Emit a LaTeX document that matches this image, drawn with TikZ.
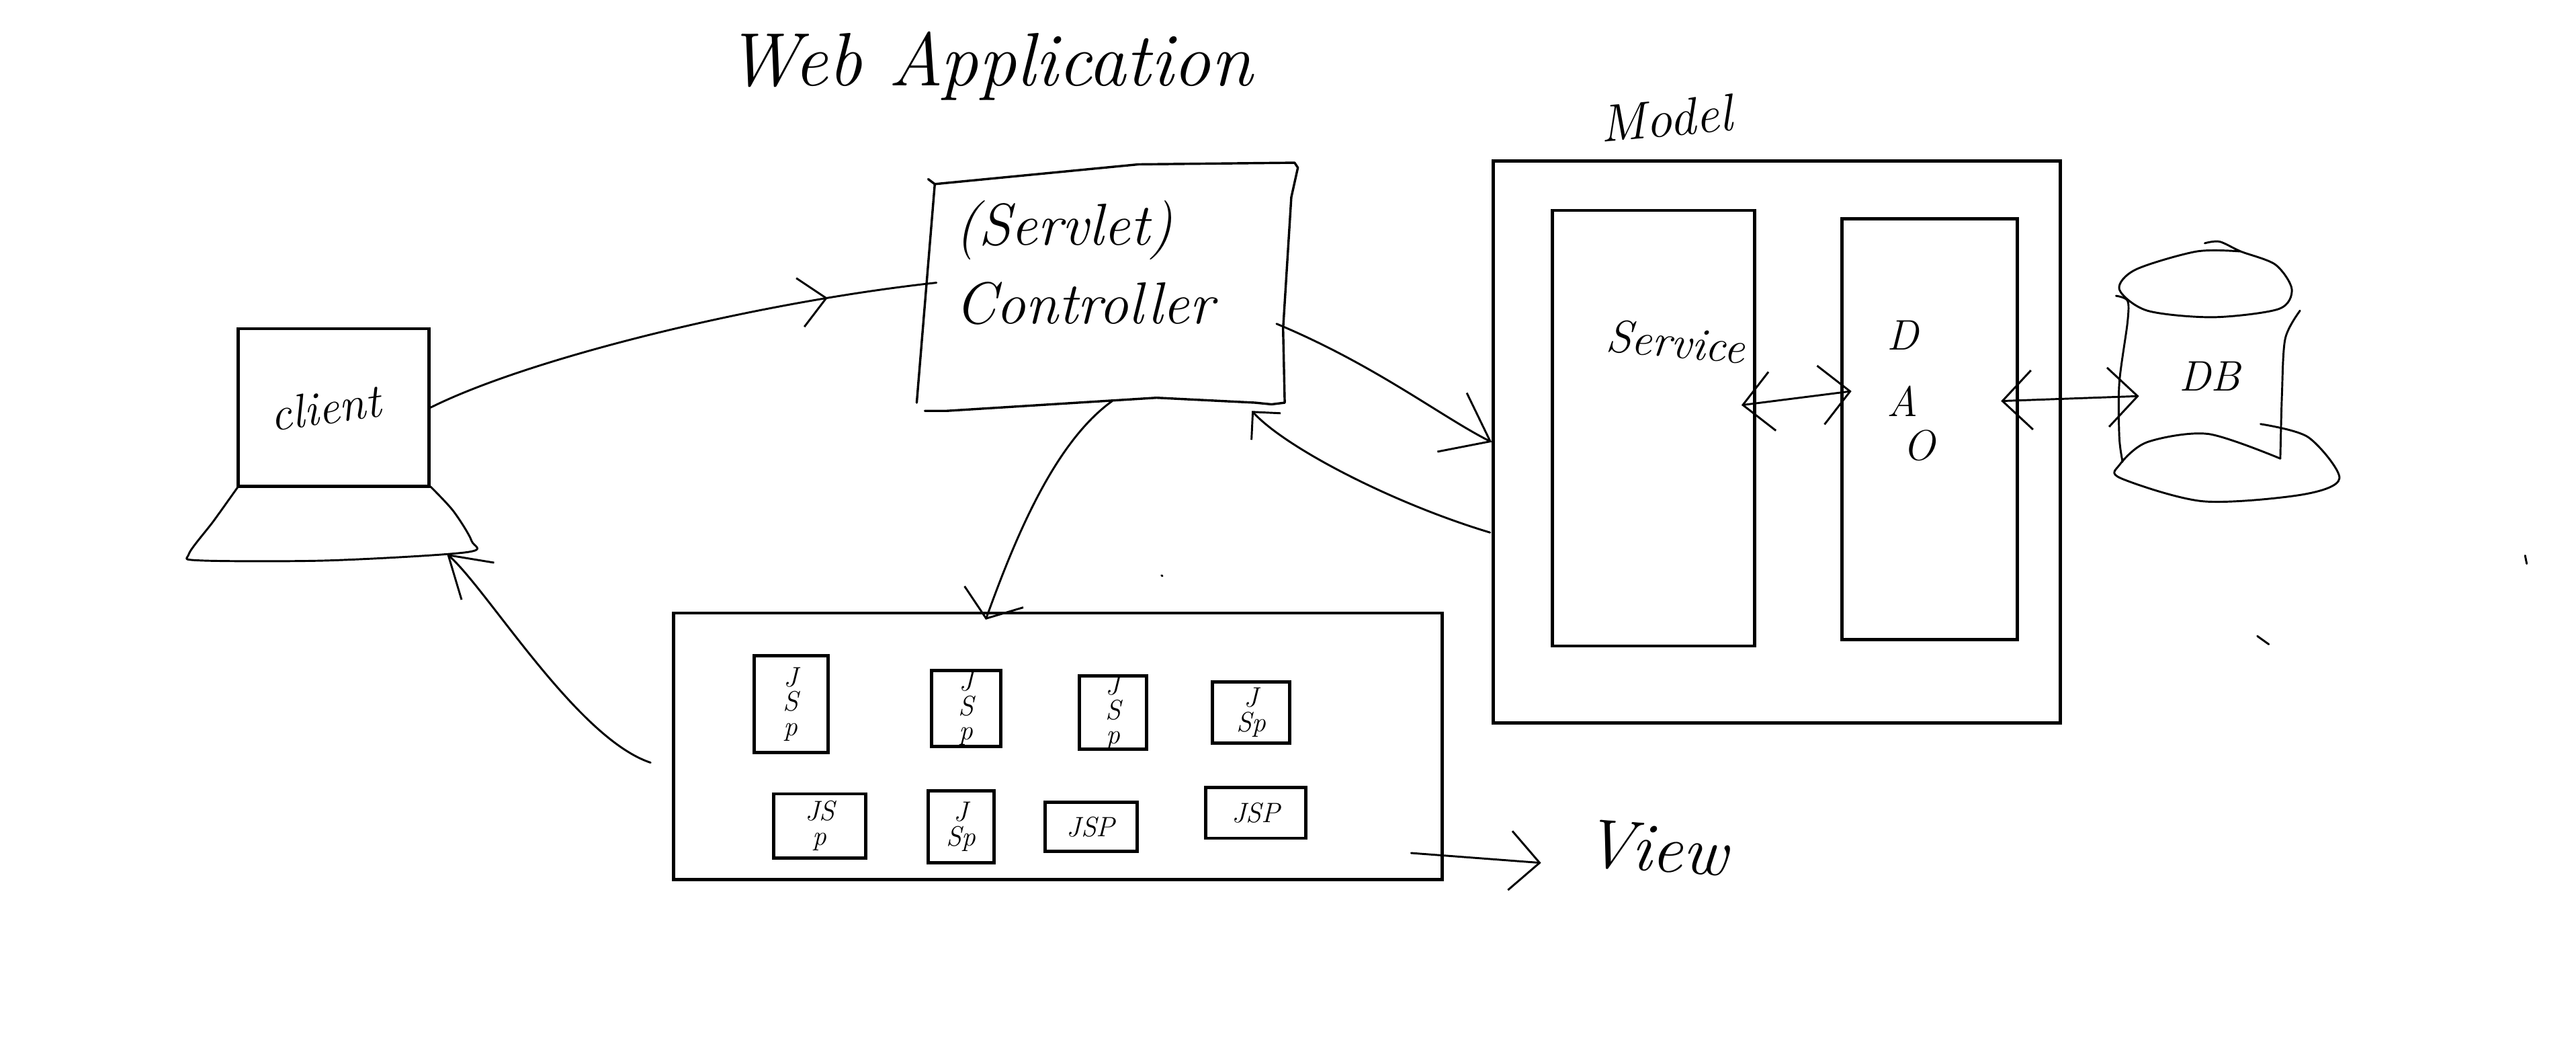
\documentclass[tikz,border=0pt]{standalone}
\usetikzlibrary{
  arrows.meta,
  calc,
  decorations.markings
}
\tikzset{
  pen/.style={line width=1.2pt, line cap=round, line join=round},
  boxnode/.style={draw, line width=2pt, inner sep=0pt},
  jspbox/.style={boxnode, align=center, font=\itshape\fontsize{17}{15}\selectfont},
  hand/.style={inner sep=0pt, font=\itshape\fontsize{#1}{#1}\selectfont}
}

\begin{document}
\begin{tikzpicture}[
      x=1pt,
      y=-1pt,
      >={Straight Barb[length=18pt,width=36pt,line width=1.2pt]}
      ]
      \useasboundingbox (0,0) rectangle (1568,641.25);

      % boxes
      \node[boxnode, minimum width=116, minimum height=96] (client) at (203,248) {};
      \node[boxnode, minimum width=468, minimum height=162] (view) at (644,454) {};
      \node[boxnode, minimum width=345, minimum height=342] (model) at (1081.5,269) {};
      \node[boxnode, minimum width=123, minimum height=265] (service) at (1006.5,260.5) {};
      \node[boxnode, minimum width=107, minimum height=256] (dao) at (1174.5,261) {};

      \foreach \i/\cx/\cy/\w/\h/\txt in {
        1/481.5/428.5/45/59/{J\\S\\p},
        2/588/431/42/46/{J\\S\\p},
        3/677.5/433.5/41/43/{J\\S\\p},
        4/761.5/433.5/47/37/{J\\Sp},
        5/499/502.5/56/39/{JS\\p},
        6/585/503/40/44/{J\\Sp},
        7/664/503/56/30/{JSP},
        8/764.5/494.5/61/31/{JSP}}{
        \node[jspbox, minimum width=\w, minimum height=\h] (jsp\i) at (\cx,\cy) {\txt};
      }

      % hand drawn controller and laptop
      \draw[pen, line width=1.4pt] (565,109) -- (569,112) -- (693,100) -- (788,99) -- (790,102)
        -- (786,120) -- (781,200) -- (782,245) -- (774,246) -- (764,245) -- (704,242)
        -- (576,250) -- (563,250) (569,112) -- (558,245);
      \draw[pen] plot[smooth] coordinates {(145,296) (130,317) (115,337) (122,341)
        (200,341) (284,336) (287,329) (276,311) (262,296)};

      % db
      \draw[pen] plot[smooth] coordinates {(1342,148) (1351,147) (1364,153) (1385,161) (1395,176)
        (1387,188) (1347,193) (1307,189) (1290,176) (1300,164) (1337,153) (1364,153)};
      \draw[pen] plot[smooth] coordinates {(1288,180) (1295,183) (1295,196) (1290,233) (1290,266) (1292,281)};
      \draw[pen] plot[smooth] coordinates {(1400,189) (1391,206) (1389,240) (1388,279)};
      \draw[pen] plot[smooth] coordinates {(1388,279) (1344,264) (1307,269) (1290,283) (1291,291)
        (1341,305) (1401,301) (1424,291) (1405,266) (1376,258)};

      % labels
      \node[hand=46] (title) at (602,40) {Web Application};
      \node[hand=36, align=left] (controller) at (660,160) {(Servlet)\\[12pt]Controller};
      \node[hand=29, rotate=8] (clientText) at (198,248) {client};
      \node[hand=32, rotate=5] (modelText) at (1014,72) {Model};
      \node[hand=28, rotate=-5] (serviceText) at (1020,208) {Service};
      \foreach \i/\cx/\cy in {D/1158/204, A/1158/244, O/1168/271}{
        \node[hand=26] (dao\i) at (\cx,\cy) {\i};
      }
      \node[hand=26] (dbText) at (1345,229) {DB};
      \node[hand=42, rotate=-4] (viewText) at (1008,516) {View};

      % connectors
      \draw[pen, postaction={decorate}, decoration={markings,
          mark=at position 0.79 with {\arrow{Straight Barb[length=16pt,width=30pt,line width=1.2pt]}}}]
      (client.east) .. controls +(60,-30) and +(-110,12) .. ($(controller)+(-90,12)$);
      \draw[pen, -{Straight Barb[length=26pt,width=40pt,line width=1.2pt]}]
      ($(controller)+(117,37)$) .. controls +(60,25) and +(-30,-15) .. (model.west);
      \draw[pen, -{Straight Barb[length=12pt,width=24pt,line width=1.2pt]}]
      ($(model.west)+(-1,55)$) .. controls +(-60,-18) and +(20,22) .. ($(controller)+(102,90)$);
      \draw[pen, -{Straight Barb[length=14pt,width=38pt,line width=1.2pt]}]
      ($(controller)+(17,84)$) .. controls +(-35,25) and +(18,-50) .. ($(view.north)+(-44,5)$);
      \draw[pen, -{Straight Barb[length=24pt,width=30pt,line width=1.2pt]}]
      ($(view.west)+(-13,10)$) .. controls +(-45,-15) and +(25,22) .. ($(client.south)+(69,40)$);
      \draw[pen, ->] ($(view.east)+(-20,65)$) -- ($(viewText)+(-70,9)$);
      \draw[pen, <->] ($(service.east)+(-9,-14)$) -- ($(dao.west)+(7,-23)$);
      \draw[pen, <->] ($(dao.east)+(-11,-17)$) -- ($(dbText)+(-43,12)$);

      % stray marks
      \draw[pen] (1537,338) -- (1538,343) (1374,387) -- (1381,392) (707,350) -- (707.5,350.5);
    \end{tikzpicture}
\end{document}
